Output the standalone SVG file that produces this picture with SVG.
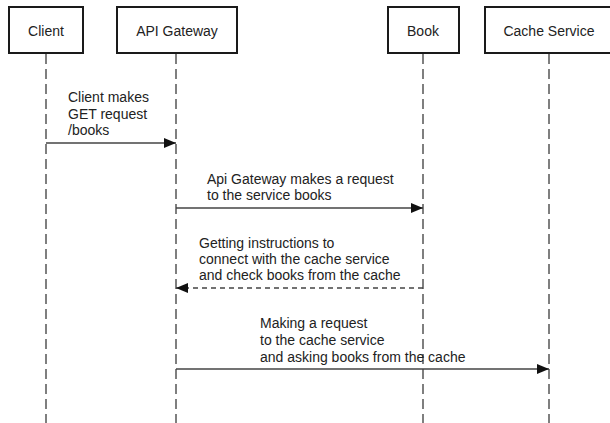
<svg xmlns="http://www.w3.org/2000/svg" width="610" height="423" viewBox="0 0 610 423">
<style>
.box{fill:#fff;stroke:#1a1a1a;stroke-width:2}
.lbl{font-family:"Liberation Sans",Arial,sans-serif;font-size:14px;fill:#222}
.life{stroke:#555;stroke-width:1.5;stroke-dasharray:10 5;fill:none}
.msg{stroke:#444;stroke-width:1.3;fill:none}
.dash{stroke-dasharray:5 4}
</style>
<defs>
<marker id="ah" viewBox="0 0 12 10" refX="12" refY="5" markerWidth="12" markerHeight="10" markerUnits="userSpaceOnUse" orient="auto">
<path d="M0,0 L12,5 L0,10 z" fill="#111"/>
</marker>
</defs>
<rect width="610" height="423" fill="#fff"/>
<g id="lifelines">
<line class="life" x1="46" y1="54" x2="46" y2="423"/>
<line class="life" x1="176" y1="54" x2="176" y2="423"/>
<line class="life" x1="423" y1="54" x2="423" y2="423"/>
<line class="life" x1="549" y1="54" x2="549" y2="423"/>
</g>
<g id="client"><rect class="box" x="9" y="7" width="74" height="46"/><text class="lbl" x="46" y="36" text-anchor="middle">Client</text></g>
<g id="gateway"><rect class="box" x="117" y="7" width="120" height="46"/><text class="lbl" x="177" y="36" text-anchor="middle">API Gateway</text></g>
<g id="book"><rect class="box" x="388" y="7" width="71" height="46"/><text class="lbl" x="423" y="36" text-anchor="middle">Book</text></g>
<g id="cache"><rect class="box" x="485" y="7" width="128" height="46"/><text class="lbl" x="549" y="36" text-anchor="middle">Cache Service</text></g>
<g id="connectors">
<line class="msg" x1="46" y1="143" x2="176" y2="143" marker-end="url(#ah)"/>
<line class="msg" x1="176" y1="208" x2="423" y2="208" marker-end="url(#ah)"/>
<line class="msg dash" x1="423" y1="288" x2="176" y2="288" marker-end="url(#ah)"/>
<line class="msg" x1="176" y1="369" x2="549" y2="369" marker-end="url(#ah)"/>
<text class="lbl" x="68" y="102">Client makes</text>
<text class="lbl" x="68" y="118.5">GET request</text>
<text class="lbl" x="68" y="135">/books</text>
<text class="lbl" x="207" y="184">Api Gateway makes a request</text>
<text class="lbl" x="207" y="200">to the service books</text>
<text class="lbl" x="199" y="248">Getting instructions to</text>
<text class="lbl" x="199" y="264">connect with the cache service</text>
<text class="lbl" x="199" y="280">and check books from the cache</text>
<text class="lbl" x="260" y="328">Making a request</text>
<text class="lbl" x="260" y="345">to the cache service</text>
<text class="lbl" x="260" y="362">and asking books from the cache</text>
</g>
</svg>
